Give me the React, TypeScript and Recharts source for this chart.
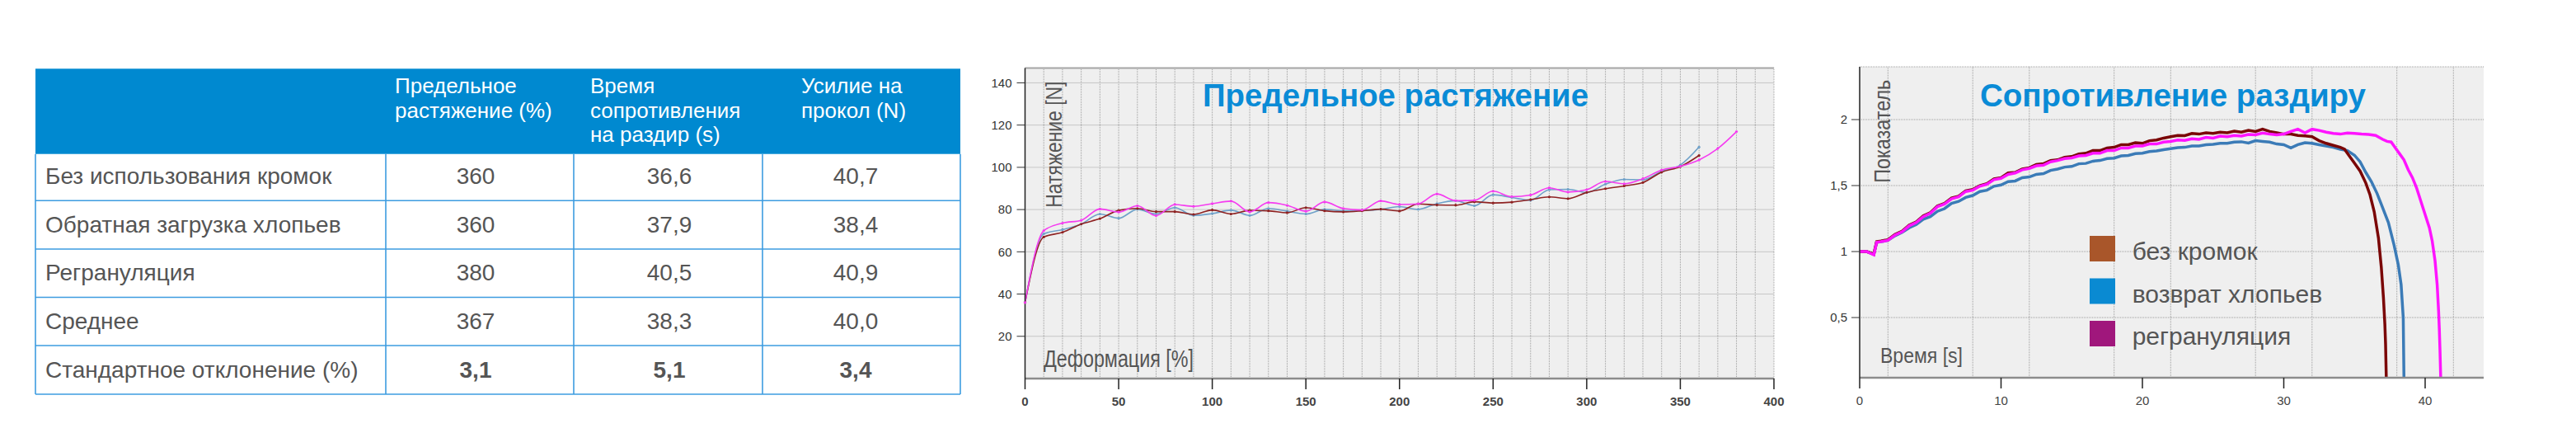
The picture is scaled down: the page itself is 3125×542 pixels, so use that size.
import React from "react";
import { LineChart, Line, XAxis, YAxis, CartesianGrid, ReferenceLine } from "recharts";

// ---- table ----
const headerLines = [
  ["Предельное", "растяжение (%)"],
  ["Время", "сопротивления", "на раздир (s)"],
  ["Усилие на", "прокол (N)"],
];
const rowLabels = [
  "Без использования кромок",
  "Обратная загрузка хлопьев",
  "Регрануляция",
  "Среднее",
  "Стандартное отклонение (%)",
];
const elongationCol = ["360", "360", "380", "367", "3,1"];
const tearTimeCol = ["36,6", "37,9", "40,5", "38,3", "5,1"];
const punctureCol = ["40,7", "38,4", "40,9", "40,0", "3,4"];

// ---- chart 1: elongation ----
const strain = [0, 10, 20, 30, 40, 50, 60, 70, 80, 90, 100, 110, 120, 130, 140, 150, 160, 170, 180, 190, 200,
  210, 220, 230, 240, 250, 260, 270, 280, 290, 300, 310, 320, 330, 340, 350, 360, 370, 380];
const forceNoEdge = [36, 67, 69.2, 73.1, 75.7, 79.6, 80.5, 79, 79, 77.7, 79.8, 77.9, 79.6, 79.4, 78.5, 80.9, 79.4,
  78.9, 79.4, 80.2, 79.3, 82.7, 82.2, 82.1, 83.7, 83.1, 83.5, 84.7, 86, 85.2, 88.1, 89.9, 91.2, 92.8, 97.7, 100.3, 105.6];
const forceFlake = [36, 68.5, 70.5, 73.1, 77.9, 75.9, 80.1, 77.9, 80.9, 77.2, 78.1, 79.7, 77.2, 80.5, 79.2, 77.9,
  80.1, 79.4, 79.6, 80.1, 81.4, 80.1, 82.8, 84.2, 81.8, 87, 85.7, 84.4, 89.4, 89.6, 88.1, 92, 94.3, 94.1, 98.1, 101.1, 109.6];
const forceRegrind = [36, 70, 73.6, 74.9, 80.3, 78.8, 81.8, 77.1, 82.4, 81.5, 82.8, 84, 78.9, 83.3, 82, 79.2, 83.6,
  80.5, 79.8, 84.1, 82.4, 82.7, 87.4, 84.2, 84.4, 88.7, 86.1, 86.9, 90.3, 88.3, 89.4, 93.3, 92.2, 94.6, 98.7, 100.5,
  103.5, 108.9, 116.9];
const strainTicks = [0, 50, 100, 150, 200, 250, 300, 350, 400];
const forceTicks = [20, 40, 60, 80, 100, 120, 140];
const strainGrid = [10, 20, 30, 40, 50, 60, 70, 80, 90, 100, 110, 120, 130, 140, 150, 160, 170, 180, 190, 200,
  210, 220, 230, 240, 250, 260, 270, 280, 290, 300, 310, 320, 330, 340, 350, 360, 370, 380, 390, 400];

// ---- chart 2: tear resistance ----
const tearTicks = [0, 10, 20, 30, 40];
const indexTicks = [0.5, 1, 1.5, 2];
const tearGrid = [2, 8, 12, 18, 22, 28, 32, 38, 42];

const noEdgeT = [0, 0.5, 1, 1.2, 1.5, 2, 2.5, 3, 3.5, 4, 4.5, 5, 5.5, 6, 6.5, 7, 7.5, 8, 8.5, 9, 9.5, 10, 10.5, 11,
  11.5, 12, 12.5, 13, 13.5, 14, 14.5, 15, 15.5, 16, 16.5, 17, 17.5, 18, 18.5, 19, 19.5, 20, 20.5, 21, 21.5, 22, 22.5,
  23, 23.5, 24, 24.5, 25, 25.5, 26, 26.5, 27, 27.5, 28, 28.5, 29, 29.5, 30, 30.5, 31, 31.5, 32, 32.5, 33, 33.5, 34,
  34.3, 34.6, 35, 35.4, 35.8, 36.1, 36.4, 36.7, 36.9, 37.05, 37.15, 37.2, 37.25];
const noEdgeV = [1, 1, 0.98, 1.075, 1.08, 1.09, 1.13, 1.155, 1.2, 1.225, 1.27, 1.295, 1.345, 1.365, 1.405, 1.42,
  1.46, 1.47, 1.5, 1.515, 1.55, 1.56, 1.595, 1.6, 1.625, 1.635, 1.66, 1.665, 1.69, 1.695, 1.715, 1.72, 1.74, 1.745,
  1.765, 1.765, 1.785, 1.79, 1.81, 1.81, 1.825, 1.82, 1.84, 1.845, 1.86, 1.87, 1.88, 1.878, 1.895, 1.89, 1.9, 1.895,
  1.905, 1.9, 1.912, 1.905, 1.918, 1.91, 1.927, 1.91, 1.9, 1.89, 1.89, 1.88, 1.876, 1.87, 1.84, 1.82, 1.805, 1.79,
  1.775, 1.73, 1.67, 1.61, 1.52, 1.43, 1.3, 1.1, 0.88, 0.65, 0.45, 0.3, 0.044];

const flakeT = [0, 0.5, 1, 1.2, 1.5, 2, 2.5, 3, 3.5, 4, 4.5, 5, 5.5, 6, 6.5, 7, 7.5, 8, 8.5, 9, 9.5, 10, 10.5, 11,
  11.5, 12, 12.5, 13, 13.5, 14, 14.5, 15, 15.5, 16, 16.5, 17, 17.5, 18, 18.5, 19, 19.5, 20, 20.5, 21, 21.5, 22, 22.5,
  23, 23.5, 24, 24.5, 25, 25.5, 26, 26.5, 27, 27.5, 28, 28.5, 29, 29.5, 30, 30.5, 31, 31.5, 32, 32.5, 33, 33.5, 34,
  34.5, 35, 35.4, 35.8, 36.2, 36.6, 37, 37.4, 37.8, 38.1, 38.3, 38.45, 38.5];
const flakeV = [1, 1, 0.98, 1.07, 1.075, 1.085, 1.12, 1.145, 1.18, 1.205, 1.245, 1.265, 1.305, 1.325, 1.365, 1.38,
  1.41, 1.425, 1.455, 1.465, 1.495, 1.505, 1.53, 1.535, 1.56, 1.565, 1.585, 1.59, 1.615, 1.625, 1.64, 1.645, 1.665,
  1.668, 1.685, 1.69, 1.705, 1.708, 1.725, 1.728, 1.742, 1.745, 1.758, 1.762, 1.772, 1.78, 1.788, 1.79, 1.8, 1.8,
  1.81, 1.812, 1.82, 1.82, 1.83, 1.832, 1.822, 1.84, 1.835, 1.83, 1.815, 1.81, 1.785, 1.81, 1.825, 1.82, 1.81, 1.8,
  1.79, 1.775, 1.765, 1.73, 1.68, 1.6, 1.53, 1.44, 1.33, 1.22, 1.05, 0.9, 0.75, 0.5, 0.044];

const regrindT = [0, 0.5, 1, 1.2, 1.5, 2, 2.5, 3, 3.5, 4, 4.5, 5, 5.5, 6, 6.5, 7, 7.5, 8, 8.5, 9, 9.5, 10, 10.5, 11,
  11.5, 12, 12.5, 13, 13.5, 14, 14.5, 15, 15.5, 16, 16.5, 17, 17.5, 18, 18.5, 19, 19.5, 20, 20.5, 21, 21.5, 22, 22.5,
  23, 23.5, 24, 24.5, 25, 25.5, 26, 26.5, 27, 27.5, 28, 28.5, 29, 29.5, 30, 30.5, 31, 31.5, 32, 32.5, 33, 33.5, 34,
  34.5, 35, 35.5, 36, 36.5, 37, 37.3, 37.6, 37.9, 38.2, 38.5, 38.8, 39.1, 39.4, 39.7, 40, 40.3, 40.5, 40.7, 40.85,
  40.95, 41, 41.05, 41.1];
const regrindV = [1, 1, 0.975, 1.07, 1.075, 1.085, 1.125, 1.15, 1.195, 1.22, 1.265, 1.29, 1.34, 1.36, 1.4, 1.415,
  1.455, 1.465, 1.495, 1.51, 1.545, 1.555, 1.585, 1.595, 1.62, 1.63, 1.65, 1.655, 1.68, 1.69, 1.705, 1.71, 1.725,
  1.728, 1.745, 1.745, 1.765, 1.765, 1.785, 1.785, 1.8, 1.8, 1.815, 1.815, 1.83, 1.835, 1.845, 1.842, 1.855, 1.85,
  1.865, 1.86, 1.875, 1.87, 1.88, 1.875, 1.888, 1.885, 1.898, 1.89, 1.885, 1.89, 1.91, 1.927, 1.9, 1.927, 1.918,
  1.905, 1.895, 1.89, 1.898, 1.895, 1.89, 1.888, 1.88, 1.85, 1.835, 1.83, 1.785, 1.74, 1.695, 1.62, 1.56, 1.48,
  1.38, 1.28, 1.18, 1.08, 0.93, 0.75, 0.55, 0.42, 0.25, 0.044];

const legendItems = ["без кромок", "возврат хлопьев", "регрануляция"];
const legendColors = ["#a9562a", "#0a8ad2", "#a0177c"];

const FONT = "'Liberation Sans', Arial, Helvetica, sans-serif";
const TITLE_BLUE = "#0a8bd6";
const GRID = "#9d9d9d";
const LABEL = "#555";

const toPoints = (t: number[], v: number[]) => t.map((x, i) => ({ t: x, v: v[i] }));

function TensileChart() {
  const data = strain.map((s, i) => ({
    s,
    noEdge: forceNoEdge[i],
    flake: forceFlake[i],
    regrind: forceRegrind[i],
  }));
  const dot = (c: string) => ({ r: 1.6, fill: c, stroke: "none" });
  return (
    <div style={{ position: "absolute", left: 1150, top: 40 }}>
      <LineChart width={1050} height={480} data={data} margin={{ top: 42.5, right: 48, bottom: 21, left: 33.5 }}>
        <CartesianGrid vertical={false} stroke={GRID} strokeDasharray="1 1" fill="#efefef" />
        {strainGrid.map((g) => (
          <ReferenceLine key={g} x={g} stroke={GRID} strokeDasharray="1 1" />
        ))}
        <ReferenceLine y={147} stroke="#a5a5a5" strokeWidth={2} />
        <XAxis
          dataKey="s"
          type="number"
          domain={[0, 400]}
          ticks={strainTicks}
          interval={0}
          height={40}
          tickSize={13}
          tickMargin={9}
          axisLine={{ stroke: "#8c8c8c", strokeWidth: 2.5 }}
          tickLine={{ stroke: "#222", strokeWidth: 1.5 }}
          tick={{ fill: "#444", fontSize: 15, fontWeight: 700, fontFamily: FONT }}
        />
        <YAxis
          type="number"
          domain={[0, 147]}
          ticks={forceTicks}
          interval={0}
          width={60}
          tickSize={10}
          tickMargin={6}
          allowDataOverflow
          axisLine={{ stroke: "#222", strokeWidth: 1.5 }}
          tickLine={{ stroke: "#333", strokeWidth: 1 }}
          tick={{ fill: "#333", fontSize: 15, fontFamily: FONT }}
        />
        <Line dataKey="flake" type="monotone" stroke="#6fa1c9" strokeWidth={1.6} dot={dot("#6fa1c9")} isAnimationActive={false} />
        <Line dataKey="noEdge" type="monotone" stroke="#8e2222" strokeWidth={1.6} dot={dot("#8e2222")} isAnimationActive={false} />
        <Line dataKey="regrind" type="monotone" stroke="#f53cf0" strokeWidth={1.6} dot={dot("#f53cf0")} isAnimationActive={false} />
      </LineChart>
    </div>
  );
}

function TearChart() {
  return (
    <div style={{ position: "absolute", left: 2160, top: 40 }}>
      <LineChart width={900} height={480} margin={{ top: 41, right: 47, bottom: 22, left: 36 }}>
        <CartesianGrid vertical={false} stroke={GRID} strokeDasharray="1 1" fill="#efefef" />
        {tearGrid.map((g) => (
          <ReferenceLine key={g} x={g} stroke={GRID} strokeDasharray="1 1" />
        ))}
        <XAxis
          dataKey="t"
          type="number"
          domain={[0, 44.14]}
          ticks={tearTicks}
          interval={0}
          height={40}
          tickSize={13}
          tickMargin={9}
          allowDataOverflow
          axisLine={{ stroke: "#8c8c8c", strokeWidth: 2.5 }}
          tickLine={{ stroke: "#222", strokeWidth: 1.5 }}
          tick={{ fill: "#444", fontSize: 15, fontFamily: FONT }}
        />
        <YAxis
          type="number"
          domain={[0.044, 2.4]}
          ticks={indexTicks}
          interval={0}
          width={60}
          tickSize={10}
          tickMargin={5}
          allowDataOverflow
          tickFormatter={(v: number) => String(v).replace(".", ",")}
          axisLine={{ stroke: "#222", strokeWidth: 1.5 }}
          tickLine={{ stroke: "#333", strokeWidth: 1 }}
          tick={{ fill: "#333", fontSize: 15, fontFamily: FONT }}
        />
        <Line data={toPoints(flakeT, flakeV)} dataKey="v" type="linear" stroke="#3b7bb7" strokeWidth={3.5} dot={false} isAnimationActive={false} />
        <Line data={toPoints(noEdgeT, noEdgeV)} dataKey="v" type="linear" stroke="#7a0606" strokeWidth={3.5} dot={false} isAnimationActive={false} />
        <Line data={toPoints(regrindT, regrindV)} dataKey="v" type="linear" stroke="#ff14ff" strokeWidth={3.5} dot={false} isAnimationActive={false} />
      </LineChart>
    </div>
  );
}

function Overlay() {
  const colX = [43, 468, 696, 925, 1165];
  const rowY = [186.7, 243.3, 302, 360.5, 419, 478];
  const headerX = [479, 716, 972];
  const headerBase = [113.3, 142.7, 172];
  const numX = [577, 812, 1038];
  const cols = [elongationCol, tearTimeCol, punctureCol];
  const line = "#3d9ce0";
  return (
    <svg width={3125} height={542} style={{ position: "absolute", left: 0, top: 0, pointerEvents: "none" }} fontFamily={FONT}>
      {/* table */}
      <rect x={43} y={83.3} width={1122} height={103.4} fill="#0089d0" />
      {rowY.slice(1).map((y, i) => (
        <line key={`r${i}`} x1={43} x2={1165} y1={y} y2={y} stroke={line} strokeWidth={1.6} />
      ))}
      {colX.map((x, i) => (
        <line key={`c${i}`} x1={x} x2={x} y1={186.7} y2={478} stroke={line} strokeWidth={1.6} />
      ))}
      {headerLines.map((lines, c) =>
        lines.map((t, j) => (
          <text key={`h${c}${j}`} x={headerX[c]} y={headerBase[j]} fill="#fff" fontSize={26}>
            {t}
          </text>
        ))
      )}
      {rowLabels.map((t, i) => (
        <text key={`l${i}`} x={55} y={rowY[i + 1] - 20.5} fill={LABEL} fontSize={28}>
          {t}
        </text>
      ))}
      {cols.map((col, c) =>
        col.map((t, i) => (
          <text
            key={`n${c}${i}`}
            x={numX[c]}
            y={rowY[i + 1] - 20.5}
            fill={LABEL}
            fontSize={28}
            textAnchor="middle"
            fontWeight={i === 4 ? 700 : 400}
          >
            {t}
          </text>
        ))
      )}

      {/* chart 1 labels */}
      <text x={1459} y={128.5} fill={TITLE_BLUE} fontSize={38} fontWeight={700} textLength={468} lengthAdjust="spacingAndGlyphs">
        Предельное растяжение
      </text>
      <text transform="translate(1287.5 251.7) rotate(-90)" fill={LABEL} fontSize={27} textLength={153} lengthAdjust="spacingAndGlyphs">
        Натяжение [N]
      </text>
      <text x={1266} y={444.5} fill={LABEL} fontSize={30} textLength={182} lengthAdjust="spacingAndGlyphs">
        Деформация [%]
      </text>

      {/* chart 2 labels */}
      <text x={2402} y={128.5} fill={TITLE_BLUE} fontSize={38} fontWeight={700} textLength={468} lengthAdjust="spacingAndGlyphs">
        Сопротивление раздиру
      </text>
      <text transform="translate(2293.3 221.7) rotate(-90)" fill={LABEL} fontSize={27} textLength={125} lengthAdjust="spacingAndGlyphs">
        Показатель
      </text>
      <text x={2281} y={440} fill={LABEL} fontSize={26} textLength={100} lengthAdjust="spacingAndGlyphs">
        Время [s]
      </text>
      {legendItems.map((t, i) => (
        <g key={t}>
          <rect x={2535} y={286 + i * 51.5} width={31} height={31} fill={legendColors[i]} />
          <text x={2586.7} y={315 + i * 51.5} fill={LABEL} fontSize={30}>
            {t}
          </text>
        </g>
      ))}
    </svg>
  );
}

export default function App() {
  return (
    <div style={{ position: "absolute", left: 0, top: 0, width: 3125, height: 542, background: "#fff", overflow: "hidden" }}>
      <TensileChart />
      <TearChart />
      <Overlay />
    </div>
  );
}
